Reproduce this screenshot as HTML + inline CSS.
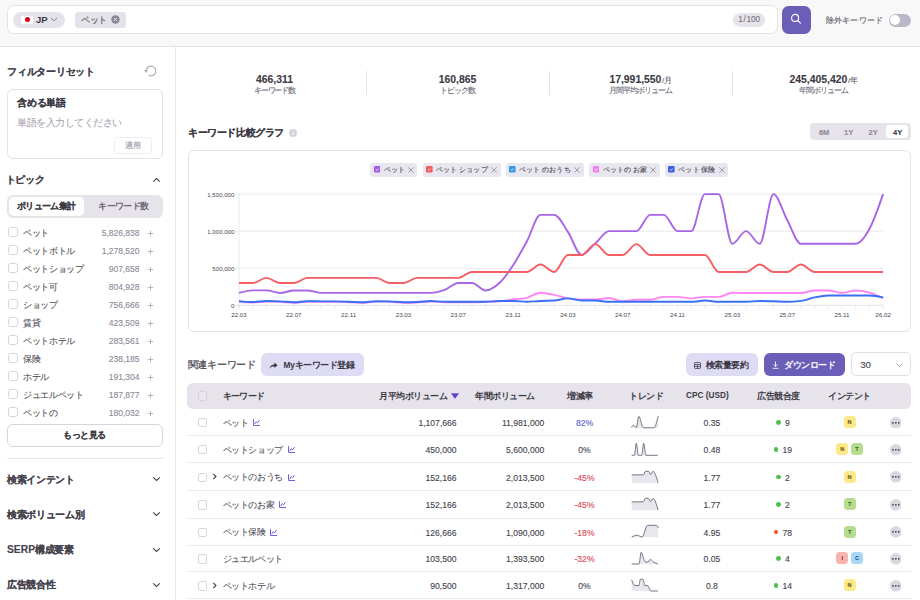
<!DOCTYPE html><html lang="ja"><head><meta charset="utf-8"><style>
*{box-sizing:border-box;margin:0;padding:0}
html,body{width:920px;height:600px;overflow:hidden;background:#fff}
body{font-family:"Liberation Sans", sans-serif;color:#3d3a45;position:relative;-webkit-text-stroke:0.12px currentColor}
.a{position:absolute;white-space:nowrap}
.b{font-weight:bold;-webkit-text-stroke:0.1px currentColor}
</style></head><body>
<div class="a" style="left:0;top:0;width:920px;height:47px;background:#f8f8f9;border-bottom:1px solid #e3e2e8"></div>
<div class="a" style="left:6.5px;top:5px;width:771px;height:29px;background:#fff;border:1px solid #e4e3ea;border-radius:7px"></div>
<div class="a" style="left:13px;top:11.5px;width:52px;height:16.5px;background:#e5e3ea;border-radius:9px"></div>
<div class="a" style="left:21px;top:16px;width:12px;height:7.5px;background:#fff"></div>
<div class="a" style="left:24.5px;top:17.2px;width:5px;height:5px;background:#d7001e;border-radius:50%"></div>
<div class="a b" style="left:36px;top:14px;font-size:9.5px;line-height:11px;color:#3a3842;-webkit-text-stroke:0">JP</div>
<svg class="a" style="left:50px;top:17px" width="8" height="5" viewBox="0 0 8 5"><path d="M1 1 L4 3.8 L7 1" fill="none" stroke="#7d7a88" stroke-width="0.9"/></svg>
<div class="a" style="left:75px;top:12px;width:51px;height:15.5px;background:#e5e3ea;border-radius:3px"></div>
<div class="a" style="left:81px;top:14.9px;font-size:9px;letter-spacing:-0.35px;line-height:11px;color:#55525c">ペット</div>
<svg class="a" style="left:111px;top:15px" width="9" height="9" viewBox="0 0 9 9"><circle cx="4.5" cy="4.5" r="4.2" fill="#8b8796"/><path d="M3.1 3.1L5.9 5.9M5.9 3.1L3.1 5.9" stroke="#fff" stroke-width="0.85"/></svg>
<div class="a" style="left:733.4px;top:12.9px;width:31.6px;height:13.9px;background:#e6e4ea;border-radius:7px;font-size:8.2px;line-height:13.9px;text-align:center;color:#75717e">1<span style="margin:0 0.7px">/</span>100</div>
<div class="a" style="left:782px;top:5.5px;width:29px;height:28.5px;background:#6b5eb8;border-radius:6.5px"></div>
<svg class="a" style="left:790px;top:13.4px" width="13" height="13" viewBox="0 0 13 13"><circle cx="5.1" cy="4.9" r="3.5" fill="none" stroke="#fff" stroke-width="1.1"/><path d="M7.6 7.4L10.4 10.2" stroke="#fff" stroke-width="1.2" stroke-linecap="round"/></svg>
<div class="a" style="left:825.5px;top:15px;font-size:8.3px;letter-spacing:0.3px;line-height:11px;color:#5d5966">除外キーワード</div>
<div class="a" style="left:889px;top:14px;width:22px;height:12.5px;background:#bcb7c8;border-radius:7px"></div>
<div class="a" style="left:890.2px;top:15.2px;width:10px;height:10px;background:#fff;border-radius:50%"></div>
<div class="a" style="left:174.5px;top:47px;width:1px;height:553px;background:#e6e5ea"></div>
<div class="a b" style="left:7px;top:65.5px;font-size:9.75px;letter-spacing:-0.25px;line-height:12px;color:#45424c">フィルターリセット</div>
<svg class="a" style="left:144.25px;top:64px" width="14" height="14" viewBox="0 0 14 14"><path d="M2.1 7 A4.9 4.9 0 1 1 4.55 11.24" fill="none" stroke="#aaa7b1" stroke-width="1.1"/><path d="M0.2 6.3 L4 6.3 L2.1 8.9Z" fill="#aaa7b1"/></svg>
<div class="a" style="left:6.5px;top:89px;width:156px;height:69.5px;border:1px solid #e3e2e8;border-radius:6px"></div>
<div class="a b" style="left:17px;top:97px;font-size:9.75px;letter-spacing:-0.25px;line-height:12px;color:#3d3a45">含める単語</div>
<div class="a" style="left:17px;top:116.5px;font-size:9.75px;letter-spacing:-0.5px;line-height:12px;color:#aaa6b3">単語を入力してください</div>
<div class="a" style="left:114px;top:137px;width:38px;height:16.5px;border:1px solid #edecf0;border-radius:4px"></div>
<div class="a b" style="left:114px;top:139.5px;width:38px;font-size:8px;line-height:12px;text-align:center;color:#b0adb7;-webkit-text-stroke:0">適用</div>
<div class="a b" style="left:5.5px;top:173.8px;font-size:9.75px;letter-spacing:-0.25px;line-height:12px;color:#45424c">トピック</div>
<svg class="a" style="left:152px;top:177px" width="9" height="6" viewBox="0 0 9 6"><path d="M1.2 4.7 L4.5 1.5 L7.8 4.7" fill="none" stroke="#4a4752" stroke-width="1.15"/></svg>
<div class="a" style="left:6.5px;top:194.5px;width:156px;height:23.5px;background:#e6e3ea;border-radius:6px"></div>
<div class="a" style="left:8.5px;top:196.5px;width:75.5px;height:19.5px;background:#fff;border-radius:5px"></div>
<div class="a b" style="left:8.5px;top:200.5px;width:75.5px;text-align:center;font-size:9px;letter-spacing:-0.55px;line-height:11px;color:#3d3a45">ボリューム集計</div>
<div class="a b" style="left:84px;top:200.5px;width:78.5px;text-align:center;font-size:9px;letter-spacing:-0.65px;line-height:11px;color:#6e6a77;-webkit-text-stroke:0">キーワード数</div>
<div class="a" style="left:0;top:222px;width:174px;height:195px;overflow:hidden">
<div class="a" style="left:8.1px;top:5.2px;width:9.8px;height:9.6px;border:1px solid #d6d3dc;border-radius:2.6px;background:#fff"></div>
<div class="a" style="left:23.2px;top:5.2px;font-size:9px;letter-spacing:-0.4px;line-height:12px;color:#56535e">ペット</div>
<div class="a" style="right:34.5px;top:5.2px;font-size:8.5px;line-height:12px;color:#8e8a97">5,826,838</div>
<svg class="a" style="left:146.5px;top:7.7px" width="7" height="7" viewBox="0 0 7 7"><path d="M3.5 0.8V6.2M0.8 3.5H6.2" stroke="#a9a5b2" stroke-width="0.8"/></svg>
<div class="a" style="left:8.1px;top:23.2px;width:9.8px;height:9.6px;border:1px solid #d6d3dc;border-radius:2.6px;background:#fff"></div>
<div class="a" style="left:23.2px;top:23.2px;font-size:9px;letter-spacing:-0.4px;line-height:12px;color:#56535e">ペットボトル</div>
<div class="a" style="right:34.5px;top:23.2px;font-size:8.5px;line-height:12px;color:#8e8a97">1,278,520</div>
<svg class="a" style="left:146.5px;top:25.7px" width="7" height="7" viewBox="0 0 7 7"><path d="M3.5 0.8V6.2M0.8 3.5H6.2" stroke="#a9a5b2" stroke-width="0.8"/></svg>
<div class="a" style="left:8.1px;top:41.2px;width:9.8px;height:9.6px;border:1px solid #d6d3dc;border-radius:2.6px;background:#fff"></div>
<div class="a" style="left:23.2px;top:41.2px;font-size:9px;letter-spacing:-0.4px;line-height:12px;color:#56535e">ペットショップ</div>
<div class="a" style="right:34.5px;top:41.2px;font-size:8.5px;line-height:12px;color:#8e8a97">907,658</div>
<svg class="a" style="left:146.5px;top:43.7px" width="7" height="7" viewBox="0 0 7 7"><path d="M3.5 0.8V6.2M0.8 3.5H6.2" stroke="#a9a5b2" stroke-width="0.8"/></svg>
<div class="a" style="left:8.1px;top:59.2px;width:9.8px;height:9.6px;border:1px solid #d6d3dc;border-radius:2.6px;background:#fff"></div>
<div class="a" style="left:23.2px;top:59.2px;font-size:9px;letter-spacing:-0.4px;line-height:12px;color:#56535e">ペット可</div>
<div class="a" style="right:34.5px;top:59.2px;font-size:8.5px;line-height:12px;color:#8e8a97">804,928</div>
<svg class="a" style="left:146.5px;top:61.7px" width="7" height="7" viewBox="0 0 7 7"><path d="M3.5 0.8V6.2M0.8 3.5H6.2" stroke="#a9a5b2" stroke-width="0.8"/></svg>
<div class="a" style="left:8.1px;top:77.2px;width:9.8px;height:9.6px;border:1px solid #d6d3dc;border-radius:2.6px;background:#fff"></div>
<div class="a" style="left:23.2px;top:77.2px;font-size:9px;letter-spacing:-0.4px;line-height:12px;color:#56535e">ショップ</div>
<div class="a" style="right:34.5px;top:77.2px;font-size:8.5px;line-height:12px;color:#8e8a97">756,666</div>
<svg class="a" style="left:146.5px;top:79.7px" width="7" height="7" viewBox="0 0 7 7"><path d="M3.5 0.8V6.2M0.8 3.5H6.2" stroke="#a9a5b2" stroke-width="0.8"/></svg>
<div class="a" style="left:8.1px;top:95.2px;width:9.8px;height:9.6px;border:1px solid #d6d3dc;border-radius:2.6px;background:#fff"></div>
<div class="a" style="left:23.2px;top:95.2px;font-size:9px;letter-spacing:-0.4px;line-height:12px;color:#56535e">賃貸</div>
<div class="a" style="right:34.5px;top:95.2px;font-size:8.5px;line-height:12px;color:#8e8a97">423,509</div>
<svg class="a" style="left:146.5px;top:97.7px" width="7" height="7" viewBox="0 0 7 7"><path d="M3.5 0.8V6.2M0.8 3.5H6.2" stroke="#a9a5b2" stroke-width="0.8"/></svg>
<div class="a" style="left:8.1px;top:113.2px;width:9.8px;height:9.6px;border:1px solid #d6d3dc;border-radius:2.6px;background:#fff"></div>
<div class="a" style="left:23.2px;top:113.2px;font-size:9px;letter-spacing:-0.4px;line-height:12px;color:#56535e">ペットホテル</div>
<div class="a" style="right:34.5px;top:113.2px;font-size:8.5px;line-height:12px;color:#8e8a97">283,561</div>
<svg class="a" style="left:146.5px;top:115.7px" width="7" height="7" viewBox="0 0 7 7"><path d="M3.5 0.8V6.2M0.8 3.5H6.2" stroke="#a9a5b2" stroke-width="0.8"/></svg>
<div class="a" style="left:8.1px;top:131.2px;width:9.8px;height:9.6px;border:1px solid #d6d3dc;border-radius:2.6px;background:#fff"></div>
<div class="a" style="left:23.2px;top:131.2px;font-size:9px;letter-spacing:-0.4px;line-height:12px;color:#56535e">保険</div>
<div class="a" style="right:34.5px;top:131.2px;font-size:8.5px;line-height:12px;color:#8e8a97">238,185</div>
<svg class="a" style="left:146.5px;top:133.7px" width="7" height="7" viewBox="0 0 7 7"><path d="M3.5 0.8V6.2M0.8 3.5H6.2" stroke="#a9a5b2" stroke-width="0.8"/></svg>
<div class="a" style="left:8.1px;top:149.2px;width:9.8px;height:9.6px;border:1px solid #d6d3dc;border-radius:2.6px;background:#fff"></div>
<div class="a" style="left:23.2px;top:149.2px;font-size:9px;letter-spacing:-0.4px;line-height:12px;color:#56535e">ホテル</div>
<div class="a" style="right:34.5px;top:149.2px;font-size:8.5px;line-height:12px;color:#8e8a97">191,304</div>
<svg class="a" style="left:146.5px;top:151.7px" width="7" height="7" viewBox="0 0 7 7"><path d="M3.5 0.8V6.2M0.8 3.5H6.2" stroke="#a9a5b2" stroke-width="0.8"/></svg>
<div class="a" style="left:8.1px;top:167.2px;width:9.8px;height:9.6px;border:1px solid #d6d3dc;border-radius:2.6px;background:#fff"></div>
<div class="a" style="left:23.2px;top:167.2px;font-size:9px;letter-spacing:-0.4px;line-height:12px;color:#56535e">ジュエルペット</div>
<div class="a" style="right:34.5px;top:167.2px;font-size:8.5px;line-height:12px;color:#8e8a97">187,877</div>
<svg class="a" style="left:146.5px;top:169.7px" width="7" height="7" viewBox="0 0 7 7"><path d="M3.5 0.8V6.2M0.8 3.5H6.2" stroke="#a9a5b2" stroke-width="0.8"/></svg>
<div class="a" style="left:8.1px;top:185.2px;width:9.8px;height:9.6px;border:1px solid #d6d3dc;border-radius:2.6px;background:#fff"></div>
<div class="a" style="left:23.2px;top:185.2px;font-size:9px;letter-spacing:-0.4px;line-height:12px;color:#56535e">ペットの</div>
<div class="a" style="right:34.5px;top:185.2px;font-size:8.5px;line-height:12px;color:#8e8a97">180,032</div>
<svg class="a" style="left:146.5px;top:187.7px" width="7" height="7" viewBox="0 0 7 7"><path d="M3.5 0.8V6.2M0.8 3.5H6.2" stroke="#a9a5b2" stroke-width="0.8"/></svg>
</div>
<div class="a b" style="left:6.5px;top:423.5px;width:156px;height:23.5px;border:1px solid #d6d4dc;border-radius:6px;font-size:9px;letter-spacing:-0.35px;line-height:21.5px;text-align:center;color:#3d3a45">もっと見る</div>
<div class="a" style="left:6.5px;top:458px;width:156px;height:1px;background:#e6e5ea"></div>
<div class="a b" style="left:7px;top:474.1px;font-size:9.75px;letter-spacing:-0.35px;line-height:12px;color:#45424c">検索インテント</div>
<svg class="a" style="left:152px;top:476.3px" width="9" height="6" viewBox="0 0 9 6"><path d="M1.2 1.3 L4.5 4.5 L7.8 1.3" fill="none" stroke="#4a4752" stroke-width="1.15"/></svg>
<div class="a b" style="left:7px;top:509.2px;font-size:9.75px;letter-spacing:-0.35px;line-height:12px;color:#45424c">検索ボリューム別</div>
<svg class="a" style="left:152px;top:511.4px" width="9" height="6" viewBox="0 0 9 6"><path d="M1.2 1.3 L4.5 4.5 L7.8 1.3" fill="none" stroke="#4a4752" stroke-width="1.15"/></svg>
<div class="a b" style="left:7px;top:544.3px;font-size:9.75px;letter-spacing:-0.35px;line-height:12px;color:#45424c"><span style="font-size:10.3px;letter-spacing:0">SERP</span>構成要素</div>
<svg class="a" style="left:152px;top:546.5px" width="9" height="6" viewBox="0 0 9 6"><path d="M1.2 1.3 L4.5 4.5 L7.8 1.3" fill="none" stroke="#4a4752" stroke-width="1.15"/></svg>
<div class="a b" style="left:7px;top:579.4px;font-size:9.75px;letter-spacing:-0.35px;line-height:12px;color:#45424c">広告競合性</div>
<svg class="a" style="left:152px;top:581.6px" width="9" height="6" viewBox="0 0 9 6"><path d="M1.2 1.3 L4.5 4.5 L7.8 1.3" fill="none" stroke="#4a4752" stroke-width="1.15"/></svg>
<div class="a b" style="left:194.5px;top:73.5px;width:160px;text-align:center;font-size:10.4px;line-height:12px;color:#3d3a45">466,311</div>
<div class="a" style="left:194.5px;top:85.5px;width:160px;text-align:center;font-size:8px;letter-spacing:-1.05px;line-height:10px;color:#6e6a77">キーワード数</div>
<div class="a b" style="left:377.5px;top:73.5px;width:160px;text-align:center;font-size:10.4px;line-height:12px;color:#3d3a45">160,865</div>
<div class="a" style="left:377.5px;top:85.5px;width:160px;text-align:center;font-size:8px;letter-spacing:-1.05px;line-height:10px;color:#6e6a77">トピック数</div>
<div class="a" style="left:366.0px;top:71px;width:1px;height:24px;background:#e3e2e8"></div>
<div class="a b" style="left:560.5px;top:73.5px;width:160px;text-align:center;font-size:10.4px;line-height:12px;color:#3d3a45">17,991,550<span style="font-weight:normal;font-size:8px;color:#5d5a65;-webkit-text-stroke:0.1px currentColor;margin-left:0.6px">/<span style="letter-spacing:-0.6px">月</span></span></div>
<div class="a" style="left:560.5px;top:85.5px;width:160px;text-align:center;font-size:8px;letter-spacing:-1.05px;line-height:10px;color:#6e6a77">月間平均ボリューム</div>
<div class="a" style="left:549.0px;top:71px;width:1px;height:24px;background:#e3e2e8"></div>
<div class="a b" style="left:743.5px;top:73.5px;width:160px;text-align:center;font-size:10.4px;line-height:12px;color:#3d3a45">245,405,420<span style="font-weight:normal;font-size:8px;color:#5d5a65;-webkit-text-stroke:0.1px currentColor;margin-left:0.6px">/<span style="letter-spacing:-0.6px">年</span></span></div>
<div class="a" style="left:743.5px;top:85.5px;width:160px;text-align:center;font-size:8px;letter-spacing:-1.05px;line-height:10px;color:#6e6a77">年間ボリューム</div>
<div class="a" style="left:732.0px;top:71px;width:1px;height:24px;background:#e3e2e8"></div>
<div class="a b" style="left:188px;top:127px;font-size:9.75px;letter-spacing:-0.4px;line-height:12px;color:#45424c;color:#3d3a45">キーワード比較グラフ</div>
<svg class="a" style="left:289.1px;top:128.6px" width="8" height="8" viewBox="0 0 8 8"><circle cx="4" cy="4" r="4" fill="#d5d2dc"/><path d="M4 3.4V6" stroke="#fff" stroke-width="1"/><circle cx="4" cy="2.2" r="0.55" fill="#fff"/></svg>
<div class="a" style="left:810.4px;top:123.4px;width:100.5px;height:16.7px;background:#e6e3ea;border-radius:4px"></div>
<div class="a" style="left:886.3px;top:125.2px;width:21.8px;height:13.1px;background:#fff;border-radius:3px"></div>
<div class="a b" style="left:812.1px;top:128px;width:24px;text-align:center;font-size:7.5px;line-height:10px;color:#8e8a97">6M</div>
<div class="a b" style="left:836.6px;top:128px;width:24px;text-align:center;font-size:7.5px;line-height:10px;color:#8e8a97">1Y</div>
<div class="a b" style="left:861.1px;top:128px;width:24px;text-align:center;font-size:7.5px;line-height:10px;color:#8e8a97">2Y</div>
<div class="a b" style="left:885.6px;top:128px;width:24px;text-align:center;font-size:7.5px;line-height:10px;color:#3d3a45">4Y</div>
<div class="a" style="left:187.5px;top:150.3px;width:723px;height:182.2px;border:1px solid #e3e2e8;border-radius:6px"></div>
<div class="a" style="left:370.2px;top:162.9px;width:47.3px;height:14px;background:#e8e6ee;border-radius:3px"></div>
<svg class="a" style="left:373.7px;top:166.2px" width="6.6" height="6.6" viewBox="0 0 7 7"><rect x="0" y="0" width="7" height="7" rx="1.3" fill="#a55ee0"/><path d="M2 3.7L3.1 4.7L5 2.7" fill="none" stroke="#fff" stroke-width="0.8"/></svg>
<div class="a" style="left:383.5px;top:164px;font-size:7.4px;letter-spacing:0.2px;line-height:11px;color:#45424d">ペット</div>
<svg class="a" style="left:407.8px;top:166.6px" width="6" height="6" viewBox="0 0 6 6"><path d="M0.3 0.3L5.7 5.7M5.7 0.3L0.3 5.7" stroke="#8a8694" stroke-width="0.75"/></svg>
<div class="a" style="left:422.7px;top:162.9px;width:78.0px;height:14px;background:#e8e6ee;border-radius:3px"></div>
<svg class="a" style="left:426.2px;top:166.2px" width="6.6" height="6.6" viewBox="0 0 7 7"><rect x="0" y="0" width="7" height="7" rx="1.3" fill="#f25b5b"/><path d="M2 3.7L3.1 4.7L5 2.7" fill="none" stroke="#fff" stroke-width="0.8"/></svg>
<div class="a" style="left:436.0px;top:164px;font-size:7.4px;letter-spacing:0.2px;line-height:11px;color:#45424d">ペット<span style="letter-spacing:-0.6px"> </span>ショップ</div>
<svg class="a" style="left:491.0px;top:166.6px" width="6" height="6" viewBox="0 0 6 6"><path d="M0.3 0.3L5.7 5.7M5.7 0.3L0.3 5.7" stroke="#8a8694" stroke-width="0.75"/></svg>
<div class="a" style="left:505.7px;top:162.9px;width:78.3px;height:14px;background:#e8e6ee;border-radius:3px"></div>
<svg class="a" style="left:509.2px;top:166.2px" width="6.6" height="6.6" viewBox="0 0 7 7"><rect x="0" y="0" width="7" height="7" rx="1.3" fill="#3399e8"/><path d="M2 3.7L3.1 4.7L5 2.7" fill="none" stroke="#fff" stroke-width="0.8"/></svg>
<div class="a" style="left:519.0px;top:164px;font-size:7.4px;letter-spacing:0.2px;line-height:11px;color:#45424d">ペット<span style="letter-spacing:-0.6px"> </span>のおうち</div>
<svg class="a" style="left:574.3px;top:166.6px" width="6" height="6" viewBox="0 0 6 6"><path d="M0.3 0.3L5.7 5.7M5.7 0.3L0.3 5.7" stroke="#8a8694" stroke-width="0.75"/></svg>
<div class="a" style="left:589.2px;top:162.9px;width:70.5px;height:14px;background:#e8e6ee;border-radius:3px"></div>
<svg class="a" style="left:592.7px;top:166.2px" width="6.6" height="6.6" viewBox="0 0 7 7"><rect x="0" y="0" width="7" height="7" rx="1.3" fill="#f07ef0"/><path d="M2 3.7L3.1 4.7L5 2.7" fill="none" stroke="#fff" stroke-width="0.8"/></svg>
<div class="a" style="left:602.5px;top:164px;font-size:7.4px;letter-spacing:0.2px;line-height:11px;color:#45424d">ペットの<span style="letter-spacing:-0.6px"> </span>お家</div>
<svg class="a" style="left:650.0px;top:166.6px" width="6" height="6" viewBox="0 0 6 6"><path d="M0.3 0.3L5.7 5.7M5.7 0.3L0.3 5.7" stroke="#8a8694" stroke-width="0.75"/></svg>
<div class="a" style="left:664.9px;top:162.9px;width:63.4px;height:14px;background:#e8e6ee;border-radius:3px"></div>
<svg class="a" style="left:668.4px;top:166.2px" width="6.6" height="6.6" viewBox="0 0 7 7"><rect x="0" y="0" width="7" height="7" rx="1.3" fill="#3b5fe0"/><path d="M2 3.7L3.1 4.7L5 2.7" fill="none" stroke="#fff" stroke-width="0.8"/></svg>
<div class="a" style="left:678.2px;top:164px;font-size:7.4px;letter-spacing:0.2px;line-height:11px;color:#45424d">ペット<span style="letter-spacing:-0.6px"> </span>保険</div>
<svg class="a" style="left:718.6px;top:166.6px" width="6" height="6" viewBox="0 0 6 6"><path d="M0.3 0.3L5.7 5.7M5.7 0.3L0.3 5.7" stroke="#8a8694" stroke-width="0.75"/></svg>
<svg class="a" style="left:0;top:0" width="920" height="600" viewBox="0 0 920 600">
<line x1="235.0" y1="268.23" x2="883.1" y2="268.23" stroke="#e6e5ea" stroke-width="0.8"/>
<line x1="235.0" y1="231.17" x2="883.1" y2="231.17" stroke="#e6e5ea" stroke-width="0.8"/>
<line x1="235.0" y1="194.10" x2="883.1" y2="194.10" stroke="#e6e5ea" stroke-width="0.8"/>
<line x1="235.0" y1="305.3" x2="883.1" y2="305.3" stroke="#dcdae2" stroke-width="0.8"/>
<line x1="239.0" y1="193.1" x2="239.0" y2="308.3" stroke="#e6e5ea" stroke-width="0.8"/>
<line x1="239.00" y1="305.3" x2="239.00" y2="308.3" stroke="#dcdae2" stroke-width="0.7"/>
<line x1="252.70" y1="305.3" x2="252.70" y2="308.3" stroke="#dcdae2" stroke-width="0.7"/>
<line x1="266.41" y1="305.3" x2="266.41" y2="308.3" stroke="#dcdae2" stroke-width="0.7"/>
<line x1="280.11" y1="305.3" x2="280.11" y2="308.3" stroke="#dcdae2" stroke-width="0.7"/>
<line x1="293.82" y1="305.3" x2="293.82" y2="308.3" stroke="#dcdae2" stroke-width="0.7"/>
<line x1="307.52" y1="305.3" x2="307.52" y2="308.3" stroke="#dcdae2" stroke-width="0.7"/>
<line x1="321.23" y1="305.3" x2="321.23" y2="308.3" stroke="#dcdae2" stroke-width="0.7"/>
<line x1="334.93" y1="305.3" x2="334.93" y2="308.3" stroke="#dcdae2" stroke-width="0.7"/>
<line x1="348.63" y1="305.3" x2="348.63" y2="308.3" stroke="#dcdae2" stroke-width="0.7"/>
<line x1="362.34" y1="305.3" x2="362.34" y2="308.3" stroke="#dcdae2" stroke-width="0.7"/>
<line x1="376.04" y1="305.3" x2="376.04" y2="308.3" stroke="#dcdae2" stroke-width="0.7"/>
<line x1="389.75" y1="305.3" x2="389.75" y2="308.3" stroke="#dcdae2" stroke-width="0.7"/>
<line x1="403.45" y1="305.3" x2="403.45" y2="308.3" stroke="#dcdae2" stroke-width="0.7"/>
<line x1="417.16" y1="305.3" x2="417.16" y2="308.3" stroke="#dcdae2" stroke-width="0.7"/>
<line x1="430.86" y1="305.3" x2="430.86" y2="308.3" stroke="#dcdae2" stroke-width="0.7"/>
<line x1="444.56" y1="305.3" x2="444.56" y2="308.3" stroke="#dcdae2" stroke-width="0.7"/>
<line x1="458.27" y1="305.3" x2="458.27" y2="308.3" stroke="#dcdae2" stroke-width="0.7"/>
<line x1="471.97" y1="305.3" x2="471.97" y2="308.3" stroke="#dcdae2" stroke-width="0.7"/>
<line x1="485.68" y1="305.3" x2="485.68" y2="308.3" stroke="#dcdae2" stroke-width="0.7"/>
<line x1="499.38" y1="305.3" x2="499.38" y2="308.3" stroke="#dcdae2" stroke-width="0.7"/>
<line x1="513.09" y1="305.3" x2="513.09" y2="308.3" stroke="#dcdae2" stroke-width="0.7"/>
<line x1="526.79" y1="305.3" x2="526.79" y2="308.3" stroke="#dcdae2" stroke-width="0.7"/>
<line x1="540.49" y1="305.3" x2="540.49" y2="308.3" stroke="#dcdae2" stroke-width="0.7"/>
<line x1="554.20" y1="305.3" x2="554.20" y2="308.3" stroke="#dcdae2" stroke-width="0.7"/>
<line x1="567.90" y1="305.3" x2="567.90" y2="308.3" stroke="#dcdae2" stroke-width="0.7"/>
<line x1="581.61" y1="305.3" x2="581.61" y2="308.3" stroke="#dcdae2" stroke-width="0.7"/>
<line x1="595.31" y1="305.3" x2="595.31" y2="308.3" stroke="#dcdae2" stroke-width="0.7"/>
<line x1="609.01" y1="305.3" x2="609.01" y2="308.3" stroke="#dcdae2" stroke-width="0.7"/>
<line x1="622.72" y1="305.3" x2="622.72" y2="308.3" stroke="#dcdae2" stroke-width="0.7"/>
<line x1="636.42" y1="305.3" x2="636.42" y2="308.3" stroke="#dcdae2" stroke-width="0.7"/>
<line x1="650.13" y1="305.3" x2="650.13" y2="308.3" stroke="#dcdae2" stroke-width="0.7"/>
<line x1="663.83" y1="305.3" x2="663.83" y2="308.3" stroke="#dcdae2" stroke-width="0.7"/>
<line x1="677.54" y1="305.3" x2="677.54" y2="308.3" stroke="#dcdae2" stroke-width="0.7"/>
<line x1="691.24" y1="305.3" x2="691.24" y2="308.3" stroke="#dcdae2" stroke-width="0.7"/>
<line x1="704.94" y1="305.3" x2="704.94" y2="308.3" stroke="#dcdae2" stroke-width="0.7"/>
<line x1="718.65" y1="305.3" x2="718.65" y2="308.3" stroke="#dcdae2" stroke-width="0.7"/>
<line x1="732.35" y1="305.3" x2="732.35" y2="308.3" stroke="#dcdae2" stroke-width="0.7"/>
<line x1="746.06" y1="305.3" x2="746.06" y2="308.3" stroke="#dcdae2" stroke-width="0.7"/>
<line x1="759.76" y1="305.3" x2="759.76" y2="308.3" stroke="#dcdae2" stroke-width="0.7"/>
<line x1="773.47" y1="305.3" x2="773.47" y2="308.3" stroke="#dcdae2" stroke-width="0.7"/>
<line x1="787.17" y1="305.3" x2="787.17" y2="308.3" stroke="#dcdae2" stroke-width="0.7"/>
<line x1="800.87" y1="305.3" x2="800.87" y2="308.3" stroke="#dcdae2" stroke-width="0.7"/>
<line x1="814.58" y1="305.3" x2="814.58" y2="308.3" stroke="#dcdae2" stroke-width="0.7"/>
<line x1="828.28" y1="305.3" x2="828.28" y2="308.3" stroke="#dcdae2" stroke-width="0.7"/>
<line x1="841.99" y1="305.3" x2="841.99" y2="308.3" stroke="#dcdae2" stroke-width="0.7"/>
<line x1="855.69" y1="305.3" x2="855.69" y2="308.3" stroke="#dcdae2" stroke-width="0.7"/>
<line x1="869.40" y1="305.3" x2="869.40" y2="308.3" stroke="#dcdae2" stroke-width="0.7"/>
<line x1="883.10" y1="305.3" x2="883.10" y2="308.3" stroke="#dcdae2" stroke-width="0.7"/>
<text x="234.4" y="308.30" text-anchor="end" font-size="6.1" fill="#4a4752" font-family='"Liberation Sans", sans-serif'>0</text>
<text x="234.4" y="271.23" text-anchor="end" font-size="6.1" fill="#4a4752" font-family='"Liberation Sans", sans-serif'>500,000</text>
<text x="234.4" y="234.17" text-anchor="end" font-size="6.1" fill="#4a4752" font-family='"Liberation Sans", sans-serif'>1,000,000</text>
<text x="234.4" y="197.10" text-anchor="end" font-size="6.1" fill="#4a4752" font-family='"Liberation Sans", sans-serif'>1,500,000</text>
<text x="239.00" y="317" text-anchor="middle" font-size="6.2" fill="#4a4752" font-family='"Liberation Sans", sans-serif'>22.03</text>
<text x="293.82" y="317" text-anchor="middle" font-size="6.2" fill="#4a4752" font-family='"Liberation Sans", sans-serif'>22.07</text>
<text x="348.63" y="317" text-anchor="middle" font-size="6.2" fill="#4a4752" font-family='"Liberation Sans", sans-serif'>22.11</text>
<text x="403.45" y="317" text-anchor="middle" font-size="6.2" fill="#4a4752" font-family='"Liberation Sans", sans-serif'>23.03</text>
<text x="458.27" y="317" text-anchor="middle" font-size="6.2" fill="#4a4752" font-family='"Liberation Sans", sans-serif'>23.07</text>
<text x="513.09" y="317" text-anchor="middle" font-size="6.2" fill="#4a4752" font-family='"Liberation Sans", sans-serif'>23.11</text>
<text x="567.90" y="317" text-anchor="middle" font-size="6.2" fill="#4a4752" font-family='"Liberation Sans", sans-serif'>24.03</text>
<text x="622.72" y="317" text-anchor="middle" font-size="6.2" fill="#4a4752" font-family='"Liberation Sans", sans-serif'>24.07</text>
<text x="677.54" y="317" text-anchor="middle" font-size="6.2" fill="#4a4752" font-family='"Liberation Sans", sans-serif'>24.11</text>
<text x="732.35" y="317" text-anchor="middle" font-size="6.2" fill="#4a4752" font-family='"Liberation Sans", sans-serif'>25.03</text>
<text x="787.17" y="317" text-anchor="middle" font-size="6.2" fill="#4a4752" font-family='"Liberation Sans", sans-serif'>25.07</text>
<text x="841.99" y="317" text-anchor="middle" font-size="6.2" fill="#4a4752" font-family='"Liberation Sans", sans-serif'>25.11</text>
<text x="883.10" y="317" text-anchor="middle" font-size="6.2" fill="#4a4752" font-family='"Liberation Sans", sans-serif'>26.02</text>
<path d="M239.00,292.92C243.57,291.66 248.14,290.40 252.70,290.40C257.27,290.40 261.84,290.40 266.41,290.40C270.98,290.40 275.54,292.99 280.11,292.99C284.68,292.99 289.25,290.47 293.82,290.47C298.39,290.47 302.95,290.47 307.52,290.47C312.09,290.47 316.66,292.92 321.23,292.92C325.79,292.92 330.36,292.92 334.93,292.92C339.50,292.92 344.07,292.92 348.63,292.92C353.20,292.92 357.77,292.92 362.34,292.92C366.91,292.92 371.47,292.92 376.04,292.92C380.61,292.92 385.18,292.92 389.75,292.92C394.31,292.92 398.88,292.92 403.45,292.92C408.02,292.92 412.59,292.92 417.16,292.92C421.72,292.92 426.29,292.92 430.86,292.92C435.43,292.92 440.00,291.60 444.56,289.95C449.13,288.31 453.70,283.06 458.27,283.06C462.84,283.06 467.40,283.06 471.97,283.06C476.54,283.06 481.11,290.47 485.68,290.47C490.24,290.47 494.81,287.26 499.38,283.06C503.95,278.86 508.52,272.19 513.09,265.27C517.65,258.35 522.22,249.95 526.79,241.55C531.36,233.14 535.93,214.86 540.49,214.86C545.06,214.86 549.63,214.86 554.20,214.86C558.77,214.86 563.33,225.24 567.90,231.91C572.47,238.58 577.04,254.89 581.61,254.89C586.17,254.89 590.74,247.35 595.31,243.40C599.88,239.44 604.45,231.17 609.01,231.17C613.58,231.17 618.15,231.17 622.72,231.17C627.29,231.17 631.86,231.17 636.42,231.17C640.99,231.17 645.56,214.86 650.13,214.86C654.70,214.86 659.26,214.86 663.83,214.86C668.40,214.86 672.97,231.17 677.54,231.17C682.10,231.17 686.67,231.17 691.24,231.17C695.81,231.17 700.38,194.10 704.94,194.10C709.51,194.10 714.08,194.10 718.65,194.10C723.22,194.10 727.79,243.77 732.35,243.77C736.92,243.77 741.49,231.17 746.06,231.17C750.63,231.17 755.19,243.77 759.76,243.77C764.33,243.77 768.90,194.10 773.47,194.10C778.03,194.10 782.60,211.77 787.17,220.05C791.74,228.32 796.31,243.77 800.87,243.77C805.44,243.77 810.01,243.77 814.58,243.77C819.15,243.77 823.71,243.77 828.28,243.77C832.85,243.77 837.42,243.77 841.99,243.77C846.56,243.77 851.12,243.77 855.69,243.77C860.26,243.77 864.83,237.22 869.40,228.94C873.96,220.66 878.53,207.38 883.10,194.10" fill="none" stroke="#a866e6" stroke-width="1.9"/>
<path d="M239.00,283.06C243.57,283.06 248.14,283.06 252.70,283.06C257.27,283.06 261.84,277.87 266.41,277.87C270.98,277.87 275.54,283.06 280.11,283.06C284.68,283.06 289.25,283.06 293.82,283.06C298.39,283.06 302.95,277.87 307.52,277.87C312.09,277.87 316.66,277.87 321.23,277.87C325.79,277.87 330.36,277.87 334.93,277.87C339.50,277.87 344.07,277.87 348.63,277.87C353.20,277.87 357.77,277.87 362.34,277.87C366.91,277.87 371.47,277.87 376.04,277.87C380.61,277.87 385.18,283.06 389.75,283.06C394.31,283.06 398.88,283.06 403.45,283.06C408.02,283.06 412.59,277.87 417.16,277.87C421.72,277.87 426.29,277.87 430.86,277.87C435.43,277.87 440.00,277.87 444.56,277.87C449.13,277.87 453.70,277.87 458.27,277.87C462.84,277.87 467.40,271.94 471.97,271.94C476.54,271.94 481.11,271.94 485.68,271.94C490.24,271.94 494.81,271.94 499.38,271.94C503.95,271.94 508.52,271.94 513.09,271.94C517.65,271.94 522.22,271.94 526.79,271.94C531.36,271.94 535.93,264.53 540.49,264.53C545.06,264.53 549.63,271.94 554.20,271.94C558.77,271.94 563.33,255.04 567.90,255.04C572.47,255.04 577.04,255.04 581.61,255.04C586.17,255.04 590.74,244.14 595.31,244.14C599.88,244.14 604.45,255.04 609.01,255.04C613.58,255.04 618.15,255.04 622.72,255.04C627.29,255.04 631.86,244.14 636.42,244.14C640.99,244.14 645.56,255.04 650.13,255.04C654.70,255.04 659.26,255.04 663.83,255.04C668.40,255.04 672.97,255.04 677.54,255.04C682.10,255.04 686.67,255.04 691.24,255.04C695.81,255.04 700.38,255.04 704.94,255.04C709.51,255.04 714.08,271.94 718.65,271.94C723.22,271.94 727.79,271.94 732.35,271.94C736.92,271.94 741.49,271.94 746.06,271.94C750.63,271.94 755.19,264.53 759.76,264.53C764.33,264.53 768.90,271.94 773.47,271.94C778.03,271.94 782.60,271.94 787.17,271.94C791.74,271.94 796.31,264.53 800.87,264.53C805.44,264.53 810.01,271.94 814.58,271.94C819.15,271.94 823.71,271.94 828.28,271.94C832.85,271.94 837.42,271.94 841.99,271.94C846.56,271.94 851.12,271.94 855.69,271.94C860.26,271.94 864.83,271.94 869.40,271.94C873.96,271.94 878.53,271.94 883.10,271.94" fill="none" stroke="#f55f64" stroke-width="1.9"/>
<path d="M239.00,301.52C243.57,302.00 248.14,302.48 252.70,302.48C257.27,302.48 261.84,301.45 266.41,301.45C270.98,301.45 275.54,301.61 280.11,301.82C284.68,302.03 289.25,302.71 293.82,302.71C298.39,302.71 302.95,301.67 307.52,301.67C312.09,301.67 316.66,301.82 321.23,301.82C325.79,301.82 330.36,301.82 334.93,301.82C339.50,301.82 344.07,302.04 348.63,302.19C353.20,302.33 357.77,302.71 362.34,302.71C366.91,302.71 371.47,301.67 376.04,301.67C380.61,301.67 385.18,301.72 389.75,301.82C394.31,301.91 398.88,302.71 403.45,302.71C408.02,302.71 412.59,302.63 417.16,302.48C421.72,302.33 426.29,301.45 430.86,301.45C435.43,301.45 440.00,302.26 444.56,302.26C449.13,302.26 453.70,302.26 458.27,302.26C462.84,302.26 467.40,302.26 471.97,302.26C476.54,302.26 481.11,301.98 485.68,301.82C490.24,301.66 494.81,301.64 499.38,301.30C503.95,300.95 508.52,300.10 513.09,299.52C517.65,298.94 522.22,298.95 526.79,297.81C531.36,296.68 535.93,292.70 540.49,292.70C545.06,292.70 549.63,293.91 554.20,294.85C558.77,295.79 563.33,297.55 567.90,298.33C572.47,299.11 577.04,299.52 581.61,299.52C586.17,299.52 590.74,299.52 595.31,299.52C599.88,299.52 604.45,297.96 609.01,297.96C613.58,297.96 618.15,301.30 622.72,301.30C627.29,301.30 631.86,299.74 636.42,299.74C640.99,299.74 645.56,299.74 650.13,299.74C654.70,299.74 659.26,296.92 663.83,296.92C668.40,296.92 672.97,296.92 677.54,296.92C682.10,296.92 686.67,298.33 691.24,298.33C695.81,298.33 700.38,296.92 704.94,296.92C709.51,296.92 714.08,296.92 718.65,296.92C723.22,296.92 727.79,292.70 732.35,292.70C736.92,292.70 741.49,293.07 746.06,293.07C750.63,293.07 755.19,293.07 759.76,293.07C764.33,293.07 768.90,293.07 773.47,293.07C778.03,293.07 782.60,293.07 787.17,293.07C791.74,293.07 796.31,293.07 800.87,293.07C805.44,293.07 810.01,290.47 814.58,290.47C819.15,290.47 823.71,290.47 828.28,290.47C832.85,290.47 837.42,292.92 841.99,292.92C846.56,292.92 851.12,290.47 855.69,290.47C860.26,290.47 864.83,291.24 869.40,292.55C873.96,293.86 878.53,296.10 883.10,298.33" fill="none" stroke="#ff86f0" stroke-width="1.9"/>
<path d="M239.00,301.07C243.57,301.56 248.14,302.04 252.70,302.04C257.27,302.04 261.84,301.00 266.41,301.00C270.98,301.00 275.54,301.16 280.11,301.37C284.68,301.58 289.25,302.26 293.82,302.26C298.39,302.26 302.95,301.22 307.52,301.22C312.09,301.22 316.66,301.37 321.23,301.37C325.79,301.37 330.36,301.37 334.93,301.37C339.50,301.37 344.07,301.59 348.63,301.74C353.20,301.89 357.77,302.26 362.34,302.26C366.91,302.26 371.47,301.22 376.04,301.22C380.61,301.22 385.18,301.27 389.75,301.37C394.31,301.47 398.88,302.26 403.45,302.26C408.02,302.26 412.59,302.19 417.16,302.04C421.72,301.89 426.29,301.00 430.86,301.00C435.43,301.00 440.00,301.82 444.56,301.82C449.13,301.82 453.70,301.82 458.27,301.82C462.84,301.82 467.40,301.82 471.97,301.82C476.54,301.82 481.11,301.82 485.68,301.82C490.24,301.82 494.81,300.93 499.38,300.93C503.95,300.93 508.52,300.93 513.09,300.93C517.65,300.93 522.22,301.82 526.79,301.82C531.36,301.82 535.93,301.14 540.49,300.93C545.06,300.72 549.63,300.80 554.20,300.56C558.77,300.31 563.33,298.33 567.90,298.33C572.47,298.33 577.04,300.56 581.61,300.56C586.17,300.56 590.74,300.56 595.31,300.56C599.88,300.56 604.45,301.82 609.01,301.82C613.58,301.82 618.15,301.82 622.72,301.82C627.29,301.82 631.86,301.82 636.42,301.82C640.99,301.82 645.56,301.82 650.13,301.82C654.70,301.82 659.26,301.82 663.83,301.82C668.40,301.82 672.97,301.82 677.54,301.82C682.10,301.82 686.67,301.82 691.24,301.82C695.81,301.82 700.38,300.56 704.94,300.56C709.51,300.56 714.08,301.82 718.65,301.82C723.22,301.82 727.79,301.82 732.35,301.82C736.92,301.82 741.49,301.82 746.06,301.82C750.63,301.82 755.19,300.93 759.76,300.93C764.33,300.93 768.90,301.15 773.47,301.30C778.03,301.45 782.60,301.82 787.17,301.82C791.74,301.82 796.31,301.52 800.87,300.93C805.44,300.33 810.01,298.34 814.58,297.44C819.15,296.54 823.71,295.51 828.28,295.51C832.85,295.51 837.42,295.51 841.99,295.51C846.56,295.51 851.12,295.51 855.69,295.51C860.26,295.51 864.83,295.51 869.40,295.51C873.96,295.51 878.53,296.48 883.10,297.44" fill="none" stroke="#3a6ff5" stroke-width="1.9"/>
</svg>
<div class="a" style="left:187.5px;top:359px;font-size:9.75px;letter-spacing:-0.250px;line-height:12px;color:#45424c;-webkit-text-stroke:0.2px currentColor;">関連キーワード</div>
<div class="a" style="left:261px;top:352.6px;width:103px;height:23.8px;background:#dedbf5;border-radius:6px"></div>
<svg class="a" style="left:269px;top:361.5px" width="9" height="7" viewBox="0 0 9 7"><path d="M0.6 6.6 C1.2 3.6 3.2 2.6 5.4 2.6 L5.4 0.4 L8.6 3.3 L5.4 6 L5.4 4.2 C3.4 4.2 1.8 5 0.6 6.6Z" fill="#3a3743"/></svg>
<div class="a b" style="left:283.5px;top:359.3px;font-size:8.25px;line-height:12px;color:#3a3743;-webkit-text-stroke:0">My<span style="font-size:9px;letter-spacing:-0.55px">キーワード登録</span></div>
<div class="a" style="left:685.8px;top:352.7px;width:72.2px;height:23.5px;background:#dedbf5;border-radius:6px"></div>
<svg class="a" style="left:693.5px;top:361.5px" width="7" height="7" viewBox="0 0 7 7"><rect x="0.5" y="0.6" width="6" height="5.8" rx="0.7" fill="none" stroke="#3a3743" stroke-width="0.8"/><path d="M0.5 2.6H6.5M0.5 4.4H6.5M3.5 2.6V6.4" stroke="#3a3743" stroke-width="0.7"/></svg>
<div class="a b" style="left:706px;top:359.3px;font-size:9px;letter-spacing:-0.6px;line-height:12px;color:#3a3743;-webkit-text-stroke:0">検索量要約</div>
<div class="a" style="left:763.8px;top:352.7px;width:80.8px;height:23.5px;background:#6b5eb8;border-radius:6px"></div>
<svg class="a" style="left:772px;top:360.8px" width="7" height="8" viewBox="0 0 7 8"><path d="M3.5 0.5V5.4M1.4 3.4L3.5 5.5L5.6 3.4M0.6 7.3H6.4" fill="none" stroke="#fff" stroke-width="0.85"/></svg>
<div class="a b" style="left:784px;top:359.3px;font-size:9px;letter-spacing:-0.5px;line-height:12px;color:#fff;-webkit-text-stroke:0">ダウンロード</div>
<div class="a" style="left:850.9px;top:352.4px;width:60px;height:24px;background:#fff;border:1px solid #e0dee6;border-radius:5px"></div>
<div class="a" style="left:860.2px;top:358.7px;font-size:9.75px;line-height:12px;color:#4a4752">30</div>
<svg class="a" style="left:896px;top:362.6px" width="7" height="4" viewBox="0 0 7 4"><path d="M0.4 0.6 L3.5 3.4 L6.6 0.6" fill="none" stroke="#8a8694" stroke-width="0.8"/></svg>
<div class="a" style="left:187.2px;top:382.6px;width:723.5px;height:26.2px;background:#e6e3ea;border-radius:6px"></div>
<div class="a" style="left:198.2px;top:391.4px;width:9.2px;height:9.2px;border:1px solid #d3d0d9;border-radius:2.3px;background:#e9e7ed"></div>
<div class="a b" style="left:222.5px;top:389.8px;font-size:9px;letter-spacing:-0.53px;line-height:12px;color:#3d3a45;-webkit-text-stroke:0">キーワード</div>
<div class="a b" style="right:473px;top:389.8px;font-size:9px;letter-spacing:-0.53px;line-height:12px;color:#3d3a45;-webkit-text-stroke:0">月平均ボリューム</div>
<div class="a b" style="right:385.5px;top:389.8px;font-size:9px;letter-spacing:-0.53px;line-height:12px;color:#3d3a45;-webkit-text-stroke:0">年間ボリューム</div>
<div class="a b" style="left:530.1px;width:100px;text-align:center;top:389.8px;font-size:9px;letter-spacing:-0.53px;line-height:12px;color:#3d3a45;-webkit-text-stroke:0">増減率</div>
<div class="a b" style="left:596.2px;width:100px;text-align:center;top:389.8px;font-size:9px;letter-spacing:-0.53px;line-height:12px;color:#3d3a45;-webkit-text-stroke:0">トレンド</div>
<div class="a b" style="left:657.4px;width:100px;text-align:center;top:389.8px;font-size:8.25px;line-height:12px;color:#3d3a45;-webkit-text-stroke:0">CPC (USD)</div>
<div class="a b" style="left:728.6px;width:100px;text-align:center;top:389.8px;font-size:9px;letter-spacing:-0.53px;line-height:12px;color:#3d3a45;-webkit-text-stroke:0">広告競合度</div>
<div class="a b" style="left:799.6px;width:100px;text-align:center;top:389.8px;font-size:9px;letter-spacing:-0.53px;line-height:12px;color:#3d3a45;-webkit-text-stroke:0">インテント</div>
<svg class="a" style="left:450.7px;top:392.8px" width="8" height="6" viewBox="0 0 8 6"><path d="M0.3 0.4H7.7L4 5.6Z" fill="#5b3fd0" stroke="#5b3fd0" stroke-width="0.4" stroke-linejoin="round"/></svg>
<div class="a" style="left:187.2px;top:434.90px;width:723.5px;height:1px;background:#ebeaef"></div>
<div class="a" style="left:198.2px;top:418.15px;width:9.2px;height:9.2px;border:1px solid #d5d3db;border-radius:2.3px;background:#fff"></div>
<div class="a" style="left:222.5px;top:416.75px;font-size:9px;letter-spacing:-0.35px;line-height:12px;color:#4f4c57;-webkit-text-stroke:0.08px currentColor">ペット<svg style="display:inline-block;vertical-align:-0.5px;margin-left:4.6px" width="7.4" height="7" viewBox="0 0 7.4 7"><path d="M0.5 0.2V6.5H7.2" fill="none" stroke="#6b55d8" stroke-width="0.95"/><path d="M1.6 5L3.2 2.6L4.5 3.8L6.6 1.1" fill="none" stroke="#6b55d8" stroke-width="0.95"/></svg></div>
<div class="a" style="right:463.4px;top:417.05px;font-size:8.6px;line-height:12px;color:#46434e;-webkit-text-stroke:0.12px currentColor">1,107,666</div>
<div class="a" style="right:375.7px;top:417.05px;font-size:8.6px;line-height:12px;color:#46434e;-webkit-text-stroke:0.12px currentColor">11,981,000</div>
<div class="a" style="left:544.5px;width:80px;text-align:center;top:417.05px;font-size:8.6px;line-height:12px;color:#5a5fd6;-webkit-text-stroke:0.12px currentColor">82%</div>
<div class="a" style="left:671.9px;width:80px;text-align:center;top:417.05px;font-size:8.6px;line-height:12px;color:#46434e;-webkit-text-stroke:0.12px currentColor">0.35</div>
<div class="a" style="left:742.8px;width:80px;text-align:center;top:417.05px;font-size:8.6px;line-height:12px;color:#46434e;-webkit-text-stroke:0.12px currentColor"><span style="display:inline-block;width:4.8px;height:4.8px;border-radius:50%;background:#4cbf4c;margin-right:4.2px;vertical-align:1.2px"></span>9</div>
<div class="a b" style="left:843.50px;top:416.15px;width:12.2px;height:12px;background:#fbe98a;border-radius:3.5px;font-size:5.6px;line-height:12px;text-align:center;color:#6b5a10;-webkit-text-stroke:0.1px currentColor">N</div>
<svg class="a" style="left:889.8px;top:416.75px" width="11.6" height="11.6" viewBox="0 0 12 12"><circle cx="6" cy="6" r="6" fill="#d9d6df"/><circle cx="3" cy="6" r="0.95" fill="#46434e"/><circle cx="6" cy="6" r="0.95" fill="#46434e"/><circle cx="9" cy="6" r="0.95" fill="#46434e"/></svg>
<div class="a" style="left:187.2px;top:462.00px;width:723.5px;height:1px;background:#ebeaef"></div>
<div class="a" style="left:198.2px;top:445.05px;width:9.2px;height:9.2px;border:1px solid #d5d3db;border-radius:2.3px;background:#fff"></div>
<div class="a" style="left:222.5px;top:443.65px;font-size:9px;letter-spacing:-0.35px;line-height:12px;color:#4f4c57;-webkit-text-stroke:0.08px currentColor">ペット<span style="letter-spacing:-2.9px"> </span>ショップ<svg style="display:inline-block;vertical-align:-0.5px;margin-left:4.6px" width="7.4" height="7" viewBox="0 0 7.4 7"><path d="M0.5 0.2V6.5H7.2" fill="none" stroke="#6b55d8" stroke-width="0.95"/><path d="M1.6 5L3.2 2.6L4.5 3.8L6.6 1.1" fill="none" stroke="#6b55d8" stroke-width="0.95"/></svg></div>
<div class="a" style="right:463.4px;top:443.95px;font-size:8.6px;line-height:12px;color:#46434e;-webkit-text-stroke:0.12px currentColor">450,000</div>
<div class="a" style="right:375.7px;top:443.95px;font-size:8.6px;line-height:12px;color:#46434e;-webkit-text-stroke:0.12px currentColor">5,600,000</div>
<div class="a" style="left:544.5px;width:80px;text-align:center;top:443.95px;font-size:8.6px;line-height:12px;color:#4a4752;-webkit-text-stroke:0.12px currentColor">0%</div>
<div class="a" style="left:671.9px;width:80px;text-align:center;top:443.95px;font-size:8.6px;line-height:12px;color:#46434e;-webkit-text-stroke:0.12px currentColor">0.48</div>
<div class="a" style="left:742.8px;width:80px;text-align:center;top:443.95px;font-size:8.6px;line-height:12px;color:#46434e;-webkit-text-stroke:0.12px currentColor"><span style="display:inline-block;width:4.8px;height:4.8px;border-radius:50%;background:#4cbf4c;margin-right:4.2px;vertical-align:1.2px"></span>19</div>
<div class="a b" style="left:836.15px;top:443.05px;width:12.2px;height:12px;background:#fbe98a;border-radius:3.5px;font-size:5.6px;line-height:12px;text-align:center;color:#6b5a10;-webkit-text-stroke:0.1px currentColor">N</div>
<div class="a b" style="left:850.85px;top:443.05px;width:12.2px;height:12px;background:#b6dc90;border-radius:3.5px;font-size:5.6px;line-height:12px;text-align:center;color:#3f6a1f;-webkit-text-stroke:0.1px currentColor">T</div>
<svg class="a" style="left:889.8px;top:443.65px" width="11.6" height="11.6" viewBox="0 0 12 12"><circle cx="6" cy="6" r="6" fill="#d9d6df"/><circle cx="3" cy="6" r="0.95" fill="#46434e"/><circle cx="6" cy="6" r="0.95" fill="#46434e"/><circle cx="9" cy="6" r="0.95" fill="#46434e"/></svg>
<div class="a" style="left:187.2px;top:490.00px;width:723.5px;height:1px;background:#ebeaef"></div>
<div class="a" style="left:198.2px;top:472.60px;width:9.2px;height:9.2px;border:1px solid #d5d3db;border-radius:2.3px;background:#fff"></div>
<svg class="a" style="left:211.8px;top:472.90px" width="5" height="7" viewBox="0 0 5 7"><path d="M1.3 0.9L3.9 3.5L1.3 6.1" fill="none" stroke="#4a4752" stroke-width="1.2"/></svg>
<div class="a" style="left:222.5px;top:471.20px;font-size:9px;letter-spacing:-0.35px;line-height:12px;color:#4f4c57;-webkit-text-stroke:0.08px currentColor">ペット<span style="letter-spacing:-2.9px"> </span>のおうち<svg style="display:inline-block;vertical-align:-0.5px;margin-left:4.6px" width="7.4" height="7" viewBox="0 0 7.4 7"><path d="M0.5 0.2V6.5H7.2" fill="none" stroke="#6b55d8" stroke-width="0.95"/><path d="M1.6 5L3.2 2.6L4.5 3.8L6.6 1.1" fill="none" stroke="#6b55d8" stroke-width="0.95"/></svg></div>
<div class="a" style="right:463.4px;top:471.50px;font-size:8.6px;line-height:12px;color:#46434e;-webkit-text-stroke:0.12px currentColor">152,166</div>
<div class="a" style="right:375.7px;top:471.50px;font-size:8.6px;line-height:12px;color:#46434e;-webkit-text-stroke:0.12px currentColor">2,013,500</div>
<div class="a" style="left:544.5px;width:80px;text-align:center;top:471.50px;font-size:8.6px;line-height:12px;color:#e0475a;-webkit-text-stroke:0.12px currentColor">-45%</div>
<div class="a" style="left:671.9px;width:80px;text-align:center;top:471.50px;font-size:8.6px;line-height:12px;color:#46434e;-webkit-text-stroke:0.12px currentColor">1.77</div>
<div class="a" style="left:742.8px;width:80px;text-align:center;top:471.50px;font-size:8.6px;line-height:12px;color:#46434e;-webkit-text-stroke:0.12px currentColor"><span style="display:inline-block;width:4.8px;height:4.8px;border-radius:50%;background:#4cbf4c;margin-right:4.2px;vertical-align:1.2px"></span>2</div>
<div class="a b" style="left:843.50px;top:470.60px;width:12.2px;height:12px;background:#fbe98a;border-radius:3.5px;font-size:5.6px;line-height:12px;text-align:center;color:#6b5a10;-webkit-text-stroke:0.1px currentColor">N</div>
<svg class="a" style="left:889.8px;top:471.20px" width="11.6" height="11.6" viewBox="0 0 12 12"><circle cx="6" cy="6" r="6" fill="#d9d6df"/><circle cx="3" cy="6" r="0.95" fill="#46434e"/><circle cx="6" cy="6" r="0.95" fill="#46434e"/><circle cx="9" cy="6" r="0.95" fill="#46434e"/></svg>
<div class="a" style="left:187.2px;top:517.50px;width:723.5px;height:1px;background:#ebeaef"></div>
<div class="a" style="left:198.2px;top:500.35px;width:9.2px;height:9.2px;border:1px solid #d5d3db;border-radius:2.3px;background:#fff"></div>
<div class="a" style="left:222.5px;top:498.95px;font-size:9px;letter-spacing:-0.35px;line-height:12px;color:#4f4c57;-webkit-text-stroke:0.08px currentColor">ペットの<span style="letter-spacing:-2.9px"> </span>お家<svg style="display:inline-block;vertical-align:-0.5px;margin-left:4.6px" width="7.4" height="7" viewBox="0 0 7.4 7"><path d="M0.5 0.2V6.5H7.2" fill="none" stroke="#6b55d8" stroke-width="0.95"/><path d="M1.6 5L3.2 2.6L4.5 3.8L6.6 1.1" fill="none" stroke="#6b55d8" stroke-width="0.95"/></svg></div>
<div class="a" style="right:463.4px;top:499.25px;font-size:8.6px;line-height:12px;color:#46434e;-webkit-text-stroke:0.12px currentColor">152,166</div>
<div class="a" style="right:375.7px;top:499.25px;font-size:8.6px;line-height:12px;color:#46434e;-webkit-text-stroke:0.12px currentColor">2,013,500</div>
<div class="a" style="left:544.5px;width:80px;text-align:center;top:499.25px;font-size:8.6px;line-height:12px;color:#e0475a;-webkit-text-stroke:0.12px currentColor">-45%</div>
<div class="a" style="left:671.9px;width:80px;text-align:center;top:499.25px;font-size:8.6px;line-height:12px;color:#46434e;-webkit-text-stroke:0.12px currentColor">1.77</div>
<div class="a" style="left:742.8px;width:80px;text-align:center;top:499.25px;font-size:8.6px;line-height:12px;color:#46434e;-webkit-text-stroke:0.12px currentColor"><span style="display:inline-block;width:4.8px;height:4.8px;border-radius:50%;background:#4cbf4c;margin-right:4.2px;vertical-align:1.2px"></span>2</div>
<div class="a b" style="left:843.50px;top:498.35px;width:12.2px;height:12px;background:#b6dc90;border-radius:3.5px;font-size:5.6px;line-height:12px;text-align:center;color:#3f6a1f;-webkit-text-stroke:0.1px currentColor">T</div>
<svg class="a" style="left:889.8px;top:498.95px" width="11.6" height="11.6" viewBox="0 0 12 12"><circle cx="6" cy="6" r="6" fill="#d9d6df"/><circle cx="3" cy="6" r="0.95" fill="#46434e"/><circle cx="6" cy="6" r="0.95" fill="#46434e"/><circle cx="9" cy="6" r="0.95" fill="#46434e"/></svg>
<div class="a" style="left:187.2px;top:544.50px;width:723.5px;height:1px;background:#ebeaef"></div>
<div class="a" style="left:198.2px;top:527.60px;width:9.2px;height:9.2px;border:1px solid #d5d3db;border-radius:2.3px;background:#fff"></div>
<div class="a" style="left:222.5px;top:526.20px;font-size:9px;letter-spacing:-0.35px;line-height:12px;color:#4f4c57;-webkit-text-stroke:0.08px currentColor">ペット<span style="letter-spacing:-2.9px"> </span>保険<svg style="display:inline-block;vertical-align:-0.5px;margin-left:4.6px" width="7.4" height="7" viewBox="0 0 7.4 7"><path d="M0.5 0.2V6.5H7.2" fill="none" stroke="#6b55d8" stroke-width="0.95"/><path d="M1.6 5L3.2 2.6L4.5 3.8L6.6 1.1" fill="none" stroke="#6b55d8" stroke-width="0.95"/></svg></div>
<div class="a" style="right:463.4px;top:526.50px;font-size:8.6px;line-height:12px;color:#46434e;-webkit-text-stroke:0.12px currentColor">126,666</div>
<div class="a" style="right:375.7px;top:526.50px;font-size:8.6px;line-height:12px;color:#46434e;-webkit-text-stroke:0.12px currentColor">1,090,000</div>
<div class="a" style="left:544.5px;width:80px;text-align:center;top:526.50px;font-size:8.6px;line-height:12px;color:#e0475a;-webkit-text-stroke:0.12px currentColor">-18%</div>
<div class="a" style="left:671.9px;width:80px;text-align:center;top:526.50px;font-size:8.6px;line-height:12px;color:#46434e;-webkit-text-stroke:0.12px currentColor">4.95</div>
<div class="a" style="left:742.8px;width:80px;text-align:center;top:526.50px;font-size:8.6px;line-height:12px;color:#46434e;-webkit-text-stroke:0.12px currentColor"><span style="display:inline-block;width:4.8px;height:4.8px;border-radius:50%;background:#f4511e;margin-right:4.2px;vertical-align:1.2px"></span>78</div>
<div class="a b" style="left:843.50px;top:525.60px;width:12.2px;height:12px;background:#b6dc90;border-radius:3.5px;font-size:5.6px;line-height:12px;text-align:center;color:#3f6a1f;-webkit-text-stroke:0.1px currentColor">T</div>
<svg class="a" style="left:889.8px;top:526.20px" width="11.6" height="11.6" viewBox="0 0 12 12"><circle cx="6" cy="6" r="6" fill="#d9d6df"/><circle cx="3" cy="6" r="0.95" fill="#46434e"/><circle cx="6" cy="6" r="0.95" fill="#46434e"/><circle cx="9" cy="6" r="0.95" fill="#46434e"/></svg>
<div class="a" style="left:187.2px;top:571.25px;width:723.5px;height:1px;background:#ebeaef"></div>
<div class="a" style="left:198.2px;top:554.48px;width:9.2px;height:9.2px;border:1px solid #d5d3db;border-radius:2.3px;background:#fff"></div>
<div class="a" style="left:222.5px;top:553.08px;font-size:9px;letter-spacing:-0.35px;line-height:12px;color:#4f4c57;-webkit-text-stroke:0.08px currentColor">ジュエルペット</div>
<div class="a" style="right:463.4px;top:553.38px;font-size:8.6px;line-height:12px;color:#46434e;-webkit-text-stroke:0.12px currentColor">103,500</div>
<div class="a" style="right:375.7px;top:553.38px;font-size:8.6px;line-height:12px;color:#46434e;-webkit-text-stroke:0.12px currentColor">1,393,500</div>
<div class="a" style="left:544.5px;width:80px;text-align:center;top:553.38px;font-size:8.6px;line-height:12px;color:#e0475a;-webkit-text-stroke:0.12px currentColor">-32%</div>
<div class="a" style="left:671.9px;width:80px;text-align:center;top:553.38px;font-size:8.6px;line-height:12px;color:#46434e;-webkit-text-stroke:0.12px currentColor">0.05</div>
<div class="a" style="left:742.8px;width:80px;text-align:center;top:553.38px;font-size:8.6px;line-height:12px;color:#46434e;-webkit-text-stroke:0.12px currentColor"><span style="display:inline-block;width:4.8px;height:4.8px;border-radius:50%;background:#4cbf4c;margin-right:4.2px;vertical-align:1.2px"></span>4</div>
<div class="a b" style="left:836.15px;top:552.48px;width:12.2px;height:12px;background:#f7b3ad;border-radius:3.5px;font-size:5.6px;line-height:12px;text-align:center;color:#8a2f28;-webkit-text-stroke:0.1px currentColor">I</div>
<div class="a b" style="left:850.85px;top:552.48px;width:12.2px;height:12px;background:#a9d6f5;border-radius:3.5px;font-size:5.6px;line-height:12px;text-align:center;color:#1f5a85;-webkit-text-stroke:0.1px currentColor">C</div>
<svg class="a" style="left:889.8px;top:553.08px" width="11.6" height="11.6" viewBox="0 0 12 12"><circle cx="6" cy="6" r="6" fill="#d9d6df"/><circle cx="3" cy="6" r="0.95" fill="#46434e"/><circle cx="6" cy="6" r="0.95" fill="#46434e"/><circle cx="9" cy="6" r="0.95" fill="#46434e"/></svg>
<div class="a" style="left:187.2px;top:598.25px;width:723.5px;height:1px;background:#ebeaef"></div>
<div class="a" style="left:198.2px;top:581.35px;width:9.2px;height:9.2px;border:1px solid #d5d3db;border-radius:2.3px;background:#fff"></div>
<svg class="a" style="left:211.8px;top:581.65px" width="5" height="7" viewBox="0 0 5 7"><path d="M1.3 0.9L3.9 3.5L1.3 6.1" fill="none" stroke="#4a4752" stroke-width="1.2"/></svg>
<div class="a" style="left:222.5px;top:579.95px;font-size:9px;letter-spacing:-0.35px;line-height:12px;color:#4f4c57;-webkit-text-stroke:0.08px currentColor">ペットホテル</div>
<div class="a" style="right:463.4px;top:580.25px;font-size:8.6px;line-height:12px;color:#46434e;-webkit-text-stroke:0.12px currentColor">90,500</div>
<div class="a" style="right:375.7px;top:580.25px;font-size:8.6px;line-height:12px;color:#46434e;-webkit-text-stroke:0.12px currentColor">1,317,000</div>
<div class="a" style="left:544.5px;width:80px;text-align:center;top:580.25px;font-size:8.6px;line-height:12px;color:#4a4752;-webkit-text-stroke:0.12px currentColor">0%</div>
<div class="a" style="left:671.9px;width:80px;text-align:center;top:580.25px;font-size:8.6px;line-height:12px;color:#46434e;-webkit-text-stroke:0.12px currentColor">0.8</div>
<div class="a" style="left:742.8px;width:80px;text-align:center;top:580.25px;font-size:8.6px;line-height:12px;color:#46434e;-webkit-text-stroke:0.12px currentColor"><span style="display:inline-block;width:4.8px;height:4.8px;border-radius:50%;background:#4cbf4c;margin-right:4.2px;vertical-align:1.2px"></span>14</div>
<div class="a b" style="left:843.50px;top:579.35px;width:12.2px;height:12px;background:#fbe98a;border-radius:3.5px;font-size:5.6px;line-height:12px;text-align:center;color:#6b5a10;-webkit-text-stroke:0.1px currentColor">N</div>
<svg class="a" style="left:889.8px;top:579.95px" width="11.6" height="11.6" viewBox="0 0 12 12"><circle cx="6" cy="6" r="6" fill="#d9d6df"/><circle cx="3" cy="6" r="0.95" fill="#46434e"/><circle cx="6" cy="6" r="0.95" fill="#46434e"/><circle cx="9" cy="6" r="0.95" fill="#46434e"/></svg>
<svg class="a" style="left:0;top:0" width="920" height="600" viewBox="0 0 920 600">
<path d="M631.50,427.50C632.17,426.30 632.83,425.10 633.50,425.10C634.43,425.10 635.37,427.70 636.30,427.70C637.13,427.70 637.97,416.30 638.80,416.30C640.20,416.30 641.60,426.28 643.00,427.40C643.33,427.67 643.67,427.80 644.00,427.80C647.30,427.80 650.60,427.80 653.90,427.80C655.33,427.80 656.77,421.95 658.20,416.10 L658.2,427.9 L631.5,427.9 Z" fill="#e9e7ee" stroke="none"/>
<path d="M631.50,427.50C632.17,426.30 632.83,425.10 633.50,425.10C634.43,425.10 635.37,427.70 636.30,427.70C637.13,427.70 637.97,416.30 638.80,416.30C640.20,416.30 641.60,426.28 643.00,427.40C643.33,427.67 643.67,427.80 644.00,427.80C647.30,427.80 650.60,427.80 653.90,427.80C655.33,427.80 656.77,421.95 658.20,416.10" fill="none" stroke="#716d7d" stroke-width="0.95" stroke-linejoin="round"/>
<path d="M631.70,455.30C632.57,455.30 633.43,455.30 634.30,455.30C634.97,455.30 635.63,443.30 636.30,443.30C636.97,443.30 637.63,455.30 638.30,455.30C639.43,455.30 640.57,455.30 641.70,455.30C642.37,455.30 643.03,443.30 643.70,443.30C644.43,443.30 645.17,455.30 645.90,455.30C649.83,455.30 653.77,455.30 657.70,455.30 L657.7,455.6 L631.7,455.6 Z" fill="#e9e7ee" stroke="none"/>
<path d="M631.70,455.30C632.57,455.30 633.43,455.30 634.30,455.30C634.97,455.30 635.63,443.30 636.30,443.30C636.97,443.30 637.63,455.30 638.30,455.30C639.43,455.30 640.57,455.30 641.70,455.30C642.37,455.30 643.03,443.30 643.70,443.30C644.43,443.30 645.17,455.30 645.90,455.30C649.83,455.30 653.77,455.30 657.70,455.30" fill="none" stroke="#716d7d" stroke-width="0.95" stroke-linejoin="round"/>
<path d="M631.70,474.90C635.57,474.90 639.43,474.90 643.30,474.90C644.00,474.90 644.70,471.30 645.40,471.30C646.47,471.30 647.53,471.30 648.60,471.30C649.27,471.30 649.93,474.60 650.60,474.60C651.37,474.60 652.13,471.30 652.90,471.30C654.63,471.30 656.37,477.00 658.10,482.70 L658.1,482.9 L631.7,482.9 Z" fill="#e9e7ee" stroke="none"/>
<path d="M631.70,474.90C635.57,474.90 639.43,474.90 643.30,474.90C644.00,474.90 644.70,471.30 645.40,471.30C646.47,471.30 647.53,471.30 648.60,471.30C649.27,471.30 649.93,474.60 650.60,474.60C651.37,474.60 652.13,471.30 652.90,471.30C654.63,471.30 656.37,477.00 658.10,482.70" fill="none" stroke="#716d7d" stroke-width="0.95" stroke-linejoin="round"/>
<path d="M631.70,501.90C635.57,501.90 639.43,501.90 643.30,501.90C644.00,501.90 644.70,498.30 645.40,498.30C646.47,498.30 647.53,498.30 648.60,498.30C649.27,498.30 649.93,501.60 650.60,501.60C651.37,501.60 652.13,498.30 652.90,498.30C654.63,498.30 656.37,504.15 658.10,510.00 L658.1,510.2 L631.7,510.2 Z" fill="#e9e7ee" stroke="none"/>
<path d="M631.70,501.90C635.57,501.90 639.43,501.90 643.30,501.90C644.00,501.90 644.70,498.30 645.40,498.30C646.47,498.30 647.53,498.30 648.60,498.30C649.27,498.30 649.93,501.60 650.60,501.60C651.37,501.60 652.13,498.30 652.90,498.30C654.63,498.30 656.37,504.15 658.10,510.00" fill="none" stroke="#716d7d" stroke-width="0.95" stroke-linejoin="round"/>
<path d="M631.70,537.00C633.53,536.10 635.37,535.20 637.20,535.20C638.83,535.20 640.47,537.00 642.10,537.00C643.90,537.00 645.70,525.30 647.50,525.30C650.50,525.30 653.50,525.30 656.50,525.30C657.10,525.30 657.70,526.65 658.30,528.00 L658.3,537.2 L631.7,537.2 Z" fill="#e9e7ee" stroke="none"/>
<path d="M631.70,537.00C633.53,536.10 635.37,535.20 637.20,535.20C638.83,535.20 640.47,537.00 642.10,537.00C643.90,537.00 645.70,525.30 647.50,525.30C650.50,525.30 653.50,525.30 656.50,525.30C657.10,525.30 657.70,526.65 658.30,528.00" fill="none" stroke="#716d7d" stroke-width="0.95" stroke-linejoin="round"/>
<path d="M631.70,564.00C634.13,564.00 636.57,564.00 639.00,564.00C639.73,564.00 640.47,552.30 641.20,552.30C642.40,552.30 643.60,560.50 644.80,561.30C645.70,561.90 646.60,562.20 647.50,562.20C648.40,562.20 649.30,559.50 650.20,559.50C651.40,559.50 652.60,561.47 653.80,562.20C655.13,563.01 656.47,563.51 657.80,564.00 L657.8,564.3 L631.7,564.3 Z" fill="#e9e7ee" stroke="none"/>
<path d="M631.70,564.00C634.13,564.00 636.57,564.00 639.00,564.00C639.73,564.00 640.47,552.30 641.20,552.30C642.40,552.30 643.60,560.50 644.80,561.30C645.70,561.90 646.60,562.20 647.50,562.20C648.40,562.20 649.30,559.50 650.20,559.50C651.40,559.50 652.60,561.47 653.80,562.20C655.13,563.01 656.47,563.51 657.80,564.00" fill="none" stroke="#716d7d" stroke-width="0.95" stroke-linejoin="round"/>
<path d="M631.70,579.80C632.77,582.70 633.83,585.60 634.90,585.60C636.27,585.60 637.63,585.60 639.00,585.60C639.43,585.60 639.87,579.30 640.30,579.30C641.20,579.30 642.10,579.30 643.00,579.30C643.60,579.30 644.20,585.60 644.80,585.60C645.70,585.60 646.60,585.60 647.50,585.60C648.70,585.60 649.90,591.00 651.10,591.00C653.33,591.00 655.57,591.00 657.80,591.00 L657.8,591.3 L631.7,591.3 Z" fill="#e9e7ee" stroke="none"/>
<path d="M631.70,579.80C632.77,582.70 633.83,585.60 634.90,585.60C636.27,585.60 637.63,585.60 639.00,585.60C639.43,585.60 639.87,579.30 640.30,579.30C641.20,579.30 642.10,579.30 643.00,579.30C643.60,579.30 644.20,585.60 644.80,585.60C645.70,585.60 646.60,585.60 647.50,585.60C648.70,585.60 649.90,591.00 651.10,591.00C653.33,591.00 655.57,591.00 657.80,591.00" fill="none" stroke="#716d7d" stroke-width="0.95" stroke-linejoin="round"/>
</svg>
</body></html>
